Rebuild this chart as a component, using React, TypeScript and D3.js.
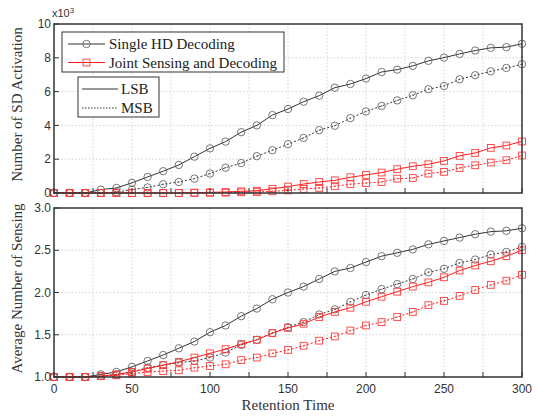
import { useEffect } from "react";
import * as d3 from "d3";

// retention time samples, every 10 units
const retention = d3.range(0, 301, 10);

// top panel: number of SD activations (x10^3)
const sdSingleLSB = [0, 0, 0, 0.2, 0.3, 0.6, 0.95, 1.29, 1.66, 2.15, 2.64, 3.04, 3.6, 4.0, 4.61, 4.97, 5.4, 5.76, 6.23, 6.45, 6.77, 7.16, 7.3, 7.52, 7.82, 8.01, 8.23, 8.43, 8.59, 8.63, 8.83];
const sdSingleMSB = [0, 0, 0, 0, 0.05, 0.2, 0.33, 0.52, 0.65, 0.85, 1.15, 1.5, 1.77, 2.18, 2.53, 2.89, 3.26, 3.72, 3.98, 4.43, 4.83, 5.15, 5.48, 5.78, 6.14, 6.33, 6.73, 6.97, 7.2, 7.4, 7.62];
const sdJointLSB = [0, 0, 0, 0, 0, 0, 0, 0, 0, 0.02, 0.04, 0.06, 0.1, 0.14, 0.25, 0.38, 0.53, 0.65, 0.75, 0.93, 1.07, 1.21, 1.41, 1.58, 1.7, 1.9, 2.2, 2.37, 2.67, 2.81, 3.05];
const sdJointMSB = [0, 0, 0, 0, 0, 0, 0, 0, 0, 0, 0.01, 0.02, 0.04, 0.06, 0.1, 0.15, 0.24, 0.3, 0.4, 0.52, 0.59, 0.65, 0.85, 0.89, 1.15, 1.25, 1.48, 1.64, 1.8, 1.94, 2.22];

// bottom panel: average number of sensing
const senseSingleLSB = [1, 1, 1, 1.03, 1.06, 1.12, 1.19, 1.26, 1.34, 1.42, 1.53, 1.61, 1.72, 1.81, 1.92, 2.0, 2.07, 2.16, 2.25, 2.29, 2.36, 2.43, 2.47, 2.51, 2.57, 2.61, 2.65, 2.69, 2.72, 2.73, 2.76];
const senseSingleMSB = [1, 1, 1, 1.01, 1.03, 1.06, 1.11, 1.14, 1.17, 1.19, 1.23, 1.29, 1.38, 1.44, 1.52, 1.59, 1.65, 1.74, 1.8, 1.89, 1.97, 2.04, 2.1, 2.16, 2.24, 2.28, 2.35, 2.39, 2.45, 2.48, 2.54];
const senseJointLSB = [1, 1, 1, 1.01, 1.03, 1.06, 1.1, 1.14, 1.18, 1.23, 1.28, 1.33, 1.39, 1.44, 1.52, 1.58, 1.63, 1.71, 1.77, 1.82, 1.89, 1.95, 2.01, 2.07, 2.12, 2.18, 2.26, 2.32, 2.37, 2.43, 2.5];
const senseJointMSB = [1, 1, 1, 1.01, 1.02, 1.04, 1.06, 1.07, 1.08, 1.11, 1.13, 1.15, 1.2, 1.23, 1.28, 1.32, 1.37, 1.43, 1.48, 1.55, 1.61, 1.65, 1.71, 1.77, 1.85, 1.9, 1.96, 2.03, 2.09, 2.14, 2.21];

const xTicks = d3.range(0, 301, 25);
const xTickLabels = [0, 50, 100, 150, 200, 250, 300];
const topYTicks = [0, 2, 4, 6, 8, 10];
const botYTicks = [1.0, 1.5, 2.0, 2.5, 3.0];

const legendSeries = ["Single HD Decoding", "Joint Sensing and Decoding"];
const legendStyles = ["LSB", "MSB"];

const W = 539;
const H = 416;
const X0 = 54;
const X1 = 522;
const TOP = { y0: 24, y1: 193 };
const BOT = { y0: 208, y1: 377 };

const BLACK = "#333";
const RED = "#ff1a1a";
const SERIF = "'Liberation Serif', 'Times New Roman', serif";
const SANS = "'Liberation Sans', Arial, sans-serif";

const xScale = d3.scaleLinear().domain([0, 300]).range([X0, X1]);

type Series = { values: number[]; color: string; marker: "circle" | "square"; dotted: boolean };

const Marker = ({ x, y, kind, color, dot }) => {
  const mc = color === RED ? "#ff3b3b" : "#666";
  return (
    <g>
      {kind === "circle" ? (
        <circle cx={x} cy={y} r={3.7} fill="none" stroke={mc} strokeWidth={0.9} />
      ) : (
        <rect x={x - 3.4} y={y - 3.4} width={6.8} height={6.8} fill="none" stroke={mc} strokeWidth={0.9} />
      )}
      {dot && <circle cx={x} cy={y} r={0.7} fill={mc} />}
    </g>
  );
};

const Panel = ({ y0, y1, domain, yTicks, series, yFmt, showXLabels, title }) => {
  const yScale = d3.scaleLinear().domain(domain).range([y1, y0]);
  const line = d3
    .line<number>()
    .x((_, i) => xScale(retention[i]))
    .y((d) => yScale(d));

  return (
    <g>
      {/* grid */}
      {xTicks.slice(1, -1).map((t) => (
        <line key={"gx" + t} x1={xScale(t)} x2={xScale(t)} y1={y0} y2={y1} stroke="#c8c8c8" strokeWidth={0.8} strokeDasharray="1.5,2" />
      ))}
      {yTicks.slice(1, -1).map((t) => (
        <line key={"gy" + t} x1={X0} x2={X1} y1={yScale(t)} y2={yScale(t)} stroke="#c8c8c8" strokeWidth={0.8} strokeDasharray="1.5,2" />
      ))}

      {/* series */}
      {series.map((s: Series, k: number) => (
        <g key={k}>
          <path
            d={line(s.values) || ""}
            fill="none"
            stroke={s.color}
            strokeWidth={1}
            strokeDasharray={s.dotted ? "2,2" : undefined}
          />
          {s.values.map((v, i) => (
            <Marker key={i} x={xScale(retention[i])} y={yScale(v)} kind={s.marker} color={s.color} dot={s.dotted} />
          ))}
        </g>
      ))}

      {/* frame */}
      <rect x={X0} y={y0} width={X1 - X0} height={y1 - y0} fill="none" stroke={BLACK} strokeWidth={1.5} />

      {/* ticks (inside) */}
      {xTicks.map((t) => (
        <line key={"tx" + t} x1={xScale(t)} x2={xScale(t)} y1={y1} y2={y1 - 5} stroke={BLACK} strokeWidth={1} />
      ))}
      {yTicks.map((t) => (
        <line key={"ty" + t} x1={X0} x2={X0 + 5} y1={yScale(t)} y2={yScale(t)} stroke={BLACK} strokeWidth={1} />
      ))}

      {/* tick labels */}
      {yTicks.map((t) => (
        <text key={"ly" + t} x={X0 - 3} y={yScale(t)} dy="0.35em" textAnchor="end" fontFamily={SANS} fontSize={12} fill="#333">
          {yFmt(t)}
        </text>
      ))}
      {showXLabels &&
        xTickLabels.map((t) => (
          <text key={"lx" + t} x={xScale(t)} y={y1 + 16} textAnchor="middle" fontFamily={SANS} fontSize={12} fill="#333">
            {t}
          </text>
        ))}

      <text
        transform={`translate(22,${(y0 + y1) / 2 - 4}) rotate(-90)`}
        textAnchor="middle"
        fontFamily={SERIF}
        fontSize={15}
        fill="#333"
      >
        {title}
      </text>
    </g>
  );
};

const Legends = () => {
  const colors = [BLACK, RED];
  const markers = ["circle", "square"];
  return (
    <g fontFamily={SERIF} fill="#222">
      <rect x={62} y={32} width={222} height={40} fill="white" stroke={BLACK} strokeWidth={1} />
      {legendSeries.map((name, i) => {
        const y = 44 + i * 18.5;
        return (
          <g key={name}>
            <line x1={68} x2={105} y1={y} y2={y} stroke={colors[i]} strokeWidth={1.2} />
            <Marker x={86.5} y={y} kind={markers[i]} color={colors[i]} dot={false} />
            <text x={109} y={y + 5} fontSize={15}>
              {name}
            </text>
          </g>
        );
      })}
      <rect x={78} y={77} width={81} height={40} fill="white" stroke={BLACK} strokeWidth={1} />
      {legendStyles.map((name, i) => {
        const y = 89 + i * 19;
        return (
          <g key={name}>
            <line x1={82} x2={118} y1={y} y2={y} stroke={BLACK} strokeWidth={1.2} strokeDasharray={i === 1 ? "1.5,1.5" : undefined} />
            <text x={121} y={y + 5} fontSize={15}>
              {name}
            </text>
          </g>
        );
      })}
    </g>
  );
};

export default function App() {
  useEffect(() => {
    document.body.style.margin = "0";
  }, []);

  const topSeries: Series[] = [
    { values: sdSingleLSB, color: BLACK, marker: "circle", dotted: false },
    { values: sdSingleMSB, color: BLACK, marker: "circle", dotted: true },
    { values: sdJointLSB, color: RED, marker: "square", dotted: false },
    { values: sdJointMSB, color: RED, marker: "square", dotted: true },
  ];
  const botSeries: Series[] = [
    { values: senseSingleLSB, color: BLACK, marker: "circle", dotted: false },
    { values: senseSingleMSB, color: BLACK, marker: "circle", dotted: true },
    { values: senseJointLSB, color: RED, marker: "square", dotted: false },
    { values: senseJointMSB, color: RED, marker: "square", dotted: true },
  ];

  return (
    <svg width={W} height={H} style={{ display: "block", background: "white" }}>
      <Panel
        y0={TOP.y0}
        y1={TOP.y1}
        domain={[0, 10]}
        yTicks={topYTicks}
        series={topSeries}
        yFmt={(d: number) => String(d)}
        showXLabels={false}
        title="Number of SD Activation"
      />
      <text x={52} y={17} fontFamily={SANS} fontSize={11} fill="#333">
        x10
        <tspan dy={-4} fontSize={8}>
          3
        </tspan>
      </text>
      <Legends />
      <Panel
        y0={BOT.y0}
        y1={BOT.y1}
        domain={[1, 3]}
        yTicks={botYTicks}
        series={botSeries}
        yFmt={(d: number) => d.toFixed(1)}
        showXLabels={true}
        title="Average Number of Sensing"
      />
      <text x={(X0 + X1) / 2} y={410} textAnchor="middle" fontFamily={SERIF} fontSize={15} fill="#333">
        Retention Time
      </text>
    </svg>
  );
}
